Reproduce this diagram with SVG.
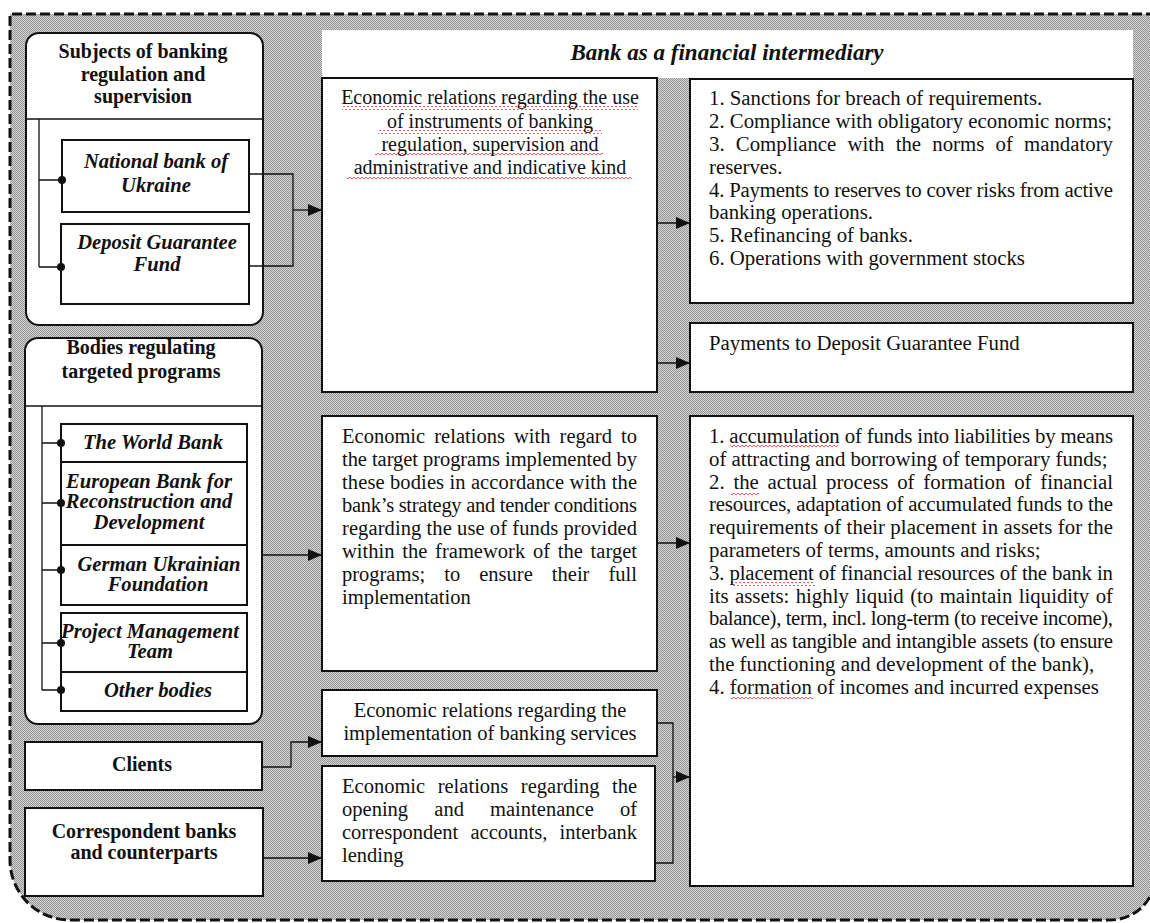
<svg xmlns="http://www.w3.org/2000/svg" width="1150" height="923" viewBox="0 0 1150 923">
<style>
.t{font-family:"Liberation Serif","Times New Roman",serif;font-size:20px;fill:#111}
.m{font-size:20.5px}
.l{font-size:20.8px}
.b{font-weight:bold}
.bi{font-weight:bold;font-style:italic;font-size:20.6px}
.hd{font-weight:bold;font-style:italic;font-size:23px}
.c{text-anchor:middle}
.box{fill:#fff;stroke:#111;stroke-width:2}
.grp{fill:#fff;stroke:#111;stroke-width:2}
.tree{fill:none;stroke:#111;stroke-width:1.3}
.con{fill:none;stroke:#111;stroke-width:1.3}
.dot{fill:#111}
.sq{fill:url(#wave)}
</style>
<defs>
<pattern id="dots" width="2" height="2" patternUnits="userSpaceOnUse">
<rect width="2" height="2" fill="#d2d2d2"/>
<rect width="1" height="1" fill="#979797"/>
<rect x="1" y="1" width="1" height="1" fill="#979797"/>
</pattern>
<pattern id="wave" width="4" height="4" patternUnits="userSpaceOnUse">
<path d="M0,3 L2,1 L4,3" fill="none" stroke="#e34848" stroke-width="0.9"/>
</pattern>
<marker id="arr" markerWidth="14" markerHeight="12" refX="14" refY="6" orient="auto" markerUnits="userSpaceOnUse">
<path d="M0,0 L14,6 L0,12 z" fill="#111"/>
</marker>
</defs>

<rect width="1150" height="923" fill="#fff"/>
<path id="frame" d="M1156,14 H10 V860 A60,60 0 0 0 70,920 H1110 A46,46 0 0 0 1156,874 Z" fill="url(#dots)" stroke="#111" stroke-width="3" stroke-dasharray="10 4"/>

<g id="header">
<rect x="322" y="30" width="811" height="48" fill="#fff"/>
<text class="t hd c" x="727" y="60">Bank as a financial intermediary</text>
</g>

<g id="subjects">
<rect class="grp" x="26" y="33" width="237" height="292" rx="13"/>
<line x1="26" y1="119" x2="263" y2="119" stroke="#111" stroke-width="1.3"/>
<text class="t b c" x="143" y="58">Subjects of banking</text>
<text class="t b c" x="143" y="81">regulation and</text>
<text class="t b c" x="143" y="103">supervision</text>
<path class="tree" d="M39,119 V267 M39,180 H62 M39,267 H61"/>
</g>
<g id="nbu">
<rect class="box" x="62" y="140" width="187" height="72"/>
<text class="t bi c" x="156" y="168">National bank of</text>
<text class="t bi c" x="156" y="192">Ukraine</text>
<circle class="dot" cx="62" cy="180" r="4"/>
</g>
<g id="dgf">
<rect class="box" x="61" y="224" width="188" height="80"/>
<text class="t bi c" x="157" y="249">Deposit Guarantee</text>
<text class="t bi c" x="157" y="271">Fund</text>
<circle class="dot" cx="61" cy="267" r="4"/>
</g>

<g id="bodies">
<rect class="grp" x="25" y="338" width="237" height="386" rx="13"/>
<line x1="25" y1="406" x2="262" y2="406" stroke="#111" stroke-width="1.3"/>
<text class="t b c" x="141" y="354">Bodies regulating</text>
<text class="t b c" x="141" y="378">targeted programs</text>
<path class="tree" d="M42,406 V690 M42,443 H61 M42,503 H61 M42,570 H61 M42,643 H61 M42,690 H61"/>
</g>
<g id="worldbank">
<rect class="box" x="61" y="424" width="186" height="38"/>
<text class="t bi c" x="153" y="449">The World Bank</text>
<circle class="dot" cx="61" cy="443" r="4"/>
</g>
<g id="ebrd">
<rect class="box" x="61" y="462" width="186" height="83"/>
<text class="t bi c" x="149" y="488">European Bank for</text>
<text class="t bi c" x="149" y="508">Reconstruction and</text>
<text class="t bi c" x="149" y="529">Development</text>
<circle class="dot" cx="61" cy="503" r="4"/>
</g>
<g id="guf">
<rect class="box" x="61" y="545" width="186" height="60"/>
<text class="t bi c" x="159" y="571">German Ukrainian</text>
<text class="t bi c" x="158" y="591">Foundation</text>
<circle class="dot" cx="61" cy="570" r="4"/>
</g>
<g id="pmt">
<rect class="box" x="61" y="613" width="186" height="59"/>
<text class="t bi c" x="150" y="638">Project Management</text>
<text class="t bi c" x="150" y="658">Team</text>
<circle class="dot" cx="61" cy="643" r="4"/>
</g>
<g id="other">
<rect class="box" x="61" y="672" width="186" height="39"/>
<text class="t bi c" x="158" y="697">Other bodies</text>
<circle class="dot" cx="61" cy="690" r="4"/>
</g>

<g id="clients">
<rect class="box" x="25" y="742" width="237" height="48"/>
<text class="t b c" x="142" y="771">Clients</text>
</g>
<g id="corr">
<rect class="box" x="25" y="808" width="238" height="88"/>
<text class="t b c" x="144" y="838">Correspondent banks</text>
<text class="t b c" x="144" y="859">and counterparts</text>
</g>

<g id="relA">
<rect class="box" x="322" y="78" width="335" height="314"/>
<rect class="sq" x="342" y="106" width="296" height="4"/>
<rect class="sq" x="378" y="130" width="224" height="4"/>
<rect class="sq" x="375" y="153" width="228" height="4"/>
<rect class="sq" x="347" y="176" width="285" height="4"/>
<text class="t c" x="490" y="104">Economic relations regarding the use</text>
<text class="t c" x="490" y="128">of instruments of  banking</text>
<text class="t c" x="490" y="151">regulation, supervision and</text>
<text class="t c" x="490" y="174">administrative and indicative kind</text>
</g>

<g id="sanctions">
<rect class="box" x="690" y="79" width="443" height="224"/>
<text class="t l" x="709" y="105">1. Sanctions for breach of requirements.</text>
<text class="t l" x="709" y="128">2. Compliance with obligatory economic norms;</text>
<text class="t l" x="709" y="151" word-spacing="6" textLength="404" lengthAdjust="spacing">3. Compliance with the norms of mandatory</text>
<text class="t l" x="709" y="174">reserves.</text>
<text class="t l" x="709" y="197" textLength="404" lengthAdjust="spacing">4. Payments to reserves to cover risks from active</text>
<text class="t l" x="709" y="219">banking operations.</text>
<text class="t l" x="709" y="242">5. Refinancing of banks.</text>
<text class="t l" x="709" y="265">6. Operations with government stocks</text>
</g>

<g id="dgfpay">
<rect class="box" x="690" y="323" width="443" height="69"/>
<text class="t l" x="709" y="350">Payments to Deposit Guarantee Fund</text>
</g>

<g id="relD">
<rect class="box" x="322" y="416" width="335" height="255"/>
<text class="t m" x="342" y="443" word-spacing="4" textLength="295" lengthAdjust="spacing">Economic relations with regard to</text>
<text class="t m" x="342" y="466" textLength="295" lengthAdjust="spacing">the target programs implemented by</text>
<text class="t m" x="342" y="489" textLength="295" lengthAdjust="spacing">these bodies in accordance with the</text>
<text class="t m" x="342" y="512" textLength="295" lengthAdjust="spacing">bank’s strategy and tender conditions</text>
<text class="t m" x="342" y="535" textLength="295" lengthAdjust="spacing">regarding the use of funds provided</text>
<text class="t m" x="342" y="558" word-spacing="2.6" textLength="295" lengthAdjust="spacing">within the framework of the target</text>
<text class="t m" x="342" y="581" word-spacing="14" textLength="295" lengthAdjust="spacing">programs; to ensure their full</text>
<text class="t m" x="342" y="604">implementation</text>
</g>

<g id="resources">
<rect class="box" x="690" y="416" width="443" height="470"/>
<rect class="sq" x="730" y="445" width="108" height="4"/>
<rect class="sq" x="731" y="491" width="28" height="4"/>
<rect class="sq" x="731" y="582" width="84" height="4"/>
<rect class="sq" x="731" y="696" width="82" height="4"/>
<text class="t l" x="709" y="443" textLength="404" lengthAdjust="spacing">1. accumulation of funds into liabilities by means</text>
<text class="t l" x="709" y="466">of attracting and borrowing of temporary funds;</text>
<text class="t l" x="709" y="489" word-spacing="3.6" textLength="404" lengthAdjust="spacing">2. the actual process of formation of financial</text>
<text class="t l" x="709" y="511" textLength="404" lengthAdjust="spacing">resources, adaptation of accumulated funds to the</text>
<text class="t l" x="709" y="534" textLength="404" lengthAdjust="spacing">requirements of their placement in assets for the</text>
<text class="t l" x="709" y="557">parameters of terms, amounts and risks;</text>
<text class="t l" x="709" y="580" textLength="404" lengthAdjust="spacing">3. placement of financial resources of the bank in</text>
<text class="t l" x="709" y="603" word-spacing="1.2" textLength="404" lengthAdjust="spacing">its assets: highly liquid (to maintain liquidity of</text>
<text class="t l" x="709" y="625" textLength="404" lengthAdjust="spacing">balance), term, incl. long-term (to receive income),</text>
<text class="t l" x="709" y="648" textLength="404" lengthAdjust="spacing">as well as tangible and intangible assets (to ensure</text>
<text class="t l" x="709" y="671">the functioning and development of the bank),</text>
<text class="t l" x="709" y="694">4. formation of incomes and incurred expenses</text>
</g>

<g id="relF">
<rect class="box" x="322" y="690" width="335" height="66"/>
<text class="t m c" x="490" y="717">Economic relations regarding the</text>
<text class="t m c" x="490" y="740">implementation of banking services</text>
</g>

<g id="relG">
<rect class="box" x="322" y="766" width="333" height="115"/>
<text class="t m" x="342" y="793" word-spacing="7.4" textLength="295" lengthAdjust="spacing">Economic relations regarding the</text>
<text class="t m" x="342" y="816" word-spacing="21" textLength="295" lengthAdjust="spacing">opening and maintenance of</text>
<text class="t m" x="342" y="839" word-spacing="7" textLength="295" lengthAdjust="spacing">correspondent accounts, interbank</text>
<text class="t m" x="342" y="862">lending</text>
</g>

<g id="connectors">
<path class="con" d="M249,174 H293 V266 H249"/>
<path class="con" d="M293,210 H322" marker-end="url(#arr)"/>
<path class="con" d="M262,555 H322" marker-end="url(#arr)"/>
<path class="con" d="M262,767 H291 V742 H322" marker-end="url(#arr)"/>
<path class="con" d="M263,858 H322" marker-end="url(#arr)"/>
<path class="con" d="M657,223 H690" marker-end="url(#arr)"/>
<path class="con" d="M657,363 H690" marker-end="url(#arr)"/>
<path class="con" d="M657,543 H690" marker-end="url(#arr)"/>
<path class="con" d="M657,723 H673 V863 H655"/>
<path class="con" d="M673,777 H690" marker-end="url(#arr)"/>
</g>
</svg>
